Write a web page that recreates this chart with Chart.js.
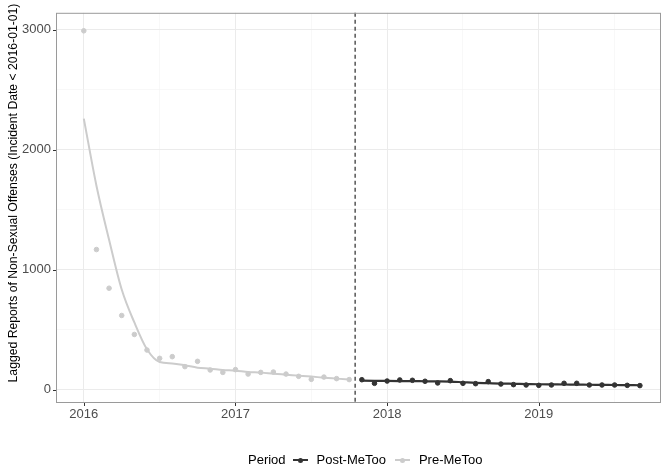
<!DOCTYPE html>
<html>
<head>
<meta charset="utf-8">
<script src="https://cdn.jsdelivr.net/npm/chart.js@4/dist/chart.umd.min.js"></script>
<style>
  body { margin: 0; background: #fff; font-family: "Liberation Sans", Arial, sans-serif; }
  #wrap { position: relative; width: 666px; height: 466px; }
  #legend { position: absolute; top: 452px; left: 248px; font-size: 13px; color: #000; display: flex; align-items: center; white-space: nowrap; }
  #legend .key { display: inline-block; position: relative; width: 17px; height: 10px; margin: 0 8px 0 6px; }
  #legend .key i { position: absolute; left: 1px; right: 1px; top: 4px; height: 2px; }
  #legend .key b { position: absolute; left: 6px; top: 3px; width: 5px; height: 5px; border-radius: 50%; }
</style>
</head>
<body>
<div id="wrap">
  <canvas id="chart" width="666" height="466"></canvas>
  <div id="legend">
    <span>Period</span>
    <span class="key"><i style="background:#333"></i><b style="background:#333"></b></span><span>Post-MeToo</span>
    <span class="key" style="margin-left:8px"><i style="background:#cccccc"></i><b style="background:#cccccc"></b></span><span>Pre-MeToo</span>
  </div>
</div>
<script>
// months counted from Jan 2016
const preMonths = [0,1,2,3,4,5,6,7,8,9,10,11,12,13,14,15,16,17,18,19,20,21];
const preValues = [2990,1168,846,619,461,331,262,276,193,237,165,145,168,131,145,148,131,112,87,106,93,85];
const preSmooth = [2259,1700,1250,835,561,337,231,220,204,184,176,165,159,148,143,134,126,118,110,101,93,85];

const postMonths = [22,23,24,25,26,27,28,29,30,31,32,33,34,35,36,37,38,39,40,41,42,43,44];
const postValues = [84,54,73,82,79,71,57,76,54,51,68,48,43,40,37,40,54,54,40,40,40,37,35];
const postSmooth = [76,75,74,73,72,71,70,68,63,58,55,52,50,48,46,45,44,43,42,41,40,39,38];

const yearTicks = [0,12,24,36];
const yearLabels = ["2016","2017","2018","2019"];
const metooMonth = 21.47;
const yTitle = "Lagged Reports of Non-Sexual Offenses (Incident Date < 2016-01-01)";

const pts = (xs, ys) => xs.map((x, i) => ({ x: x, y: ys[i] }));

const frame = {
  id: "frame",
  afterDatasetsDraw(chart) {
    const { ctx, chartArea: a, scales } = chart;
    const x = scales.x.getPixelForValue(metooMonth);
    ctx.save();
    ctx.strokeStyle = "#555";
    ctx.lineWidth = 1.5;
    ctx.setLineDash([4, 3]);
    ctx.beginPath();
    ctx.moveTo(x, a.top);
    ctx.lineTo(x, a.bottom);
    ctx.stroke();
    ctx.setLineDash([]);
    ctx.strokeStyle = "#9a9a9a";
    ctx.lineWidth = 1;
    ctx.strokeRect(a.left + 0.5, a.top + 0.5, a.right - a.left - 1, a.bottom - a.top - 1);
    ctx.restore();
  }
};

const extras = {
  id: "extras",
  afterDraw(chart) {
    const { ctx, chartArea: a, scales } = chart;
    ctx.save();
    ctx.strokeStyle = "#333";
    ctx.lineWidth = 1;
    ctx.beginPath();
    yearTicks.forEach((m) => {
      const x = Math.round(scales.x.getPixelForValue(m)) + 0.5;
      ctx.moveTo(x, a.bottom);
      ctx.lineTo(x, a.bottom + 3);
    });
    [0, 1000, 2000, 3000].forEach((v) => {
      const y = Math.round(scales.y.getPixelForValue(v)) + 0.5;
      ctx.moveTo(a.left, y);
      ctx.lineTo(a.left - 3, y);
    });
    ctx.stroke();
    // y axis title
    ctx.translate(14, 193);
    ctx.rotate(-Math.PI / 2);
    ctx.fillStyle = "#000";
    ctx.font = "12.2px 'Liberation Sans', Arial, sans-serif";
    ctx.textAlign = "center";
    ctx.textBaseline = "middle";
    ctx.fillText(yTitle, 0, 0);
    ctx.restore();
  }
};

new Chart(document.getElementById("chart"), {
  type: "scatter",
  data: {
    datasets: [
      { label: "Pre-MeToo smooth", type: "line", data: pts(preMonths, preSmooth), borderColor: "#cccccc", borderWidth: 2, pointRadius: 0, cubicInterpolationMode: "monotone", fill: false },
      { label: "Pre-MeToo", data: pts(preMonths, preValues), backgroundColor: "#cccccc", borderColor: "#cccccc", pointRadius: 2.3 },
      { label: "Post-MeToo smooth", type: "line", data: pts(postMonths, postSmooth), borderColor: "#333333", borderWidth: 2.2, pointRadius: 0, cubicInterpolationMode: "monotone", fill: false },
      { label: "Post-MeToo", data: pts(postMonths, postValues), backgroundColor: "#333333", borderColor: "#333333", pointRadius: 2.3 }
    ]
  },
  options: {
    responsive: false,
    animation: false,
    layout: { padding: { top: 12, right: 1, left: 0, bottom: 0 } },
    plugins: { legend: { display: false }, tooltip: { enabled: false } },
    scales: {
      x: {
        type: "linear",
        min: -2.2,
        max: 45.67,
        afterFit(scale) { scale.height = 63; },
        afterBuildTicks(scale) {
          const t = [];
          for (let m = -6; m <= 48; m += 6) if (m >= scale.min && m <= scale.max) t.push({ value: m });
          scale.ticks = t;
        },
        grid: {
          color: (c) => (c.tick && c.tick.value % 12 === 0) ? "#ebebeb" : "#f4f4f4",
          lineWidth: (c) => (c.tick && c.tick.value % 12 === 0) ? 1 : 0.6,
          drawTicks: false
        },
        border: { display: false },
        ticks: {
          padding: 4,
          color: "#4d4d4d",
          font: { size: 13, family: "Liberation Sans, Arial, sans-serif" },
          autoSkip: false,
          maxRotation: 0,
          callback: (v) => { const i = yearTicks.indexOf(v); return i >= 0 ? yearLabels[i] : ""; }
        }
      },
      y: {
        min: -110,
        max: 3140,
        afterFit(scale) { scale.width = 56; },
        afterBuildTicks(scale) {
          const t = [];
          for (let v = 0; v <= 3000; v += 500) t.push({ value: v });
          scale.ticks = t;
        },
        grid: {
          color: (c) => (c.tick && c.tick.value % 1000 === 0) ? "#ebebeb" : "#f4f4f4",
          lineWidth: (c) => (c.tick && c.tick.value % 1000 === 0) ? 1 : 0.6,
          drawTicks: false
        },
        border: { display: false },
        title: { display: false },
        ticks: {
          padding: 5,
          color: "#4d4d4d",
          font: { size: 13, family: "Liberation Sans, Arial, sans-serif" },
          callback: (v) => v % 1000 === 0 ? String(v) : ""
        }
      }
    }
  },
  plugins: [frame, extras]
});
</script>
</body>
</html>
